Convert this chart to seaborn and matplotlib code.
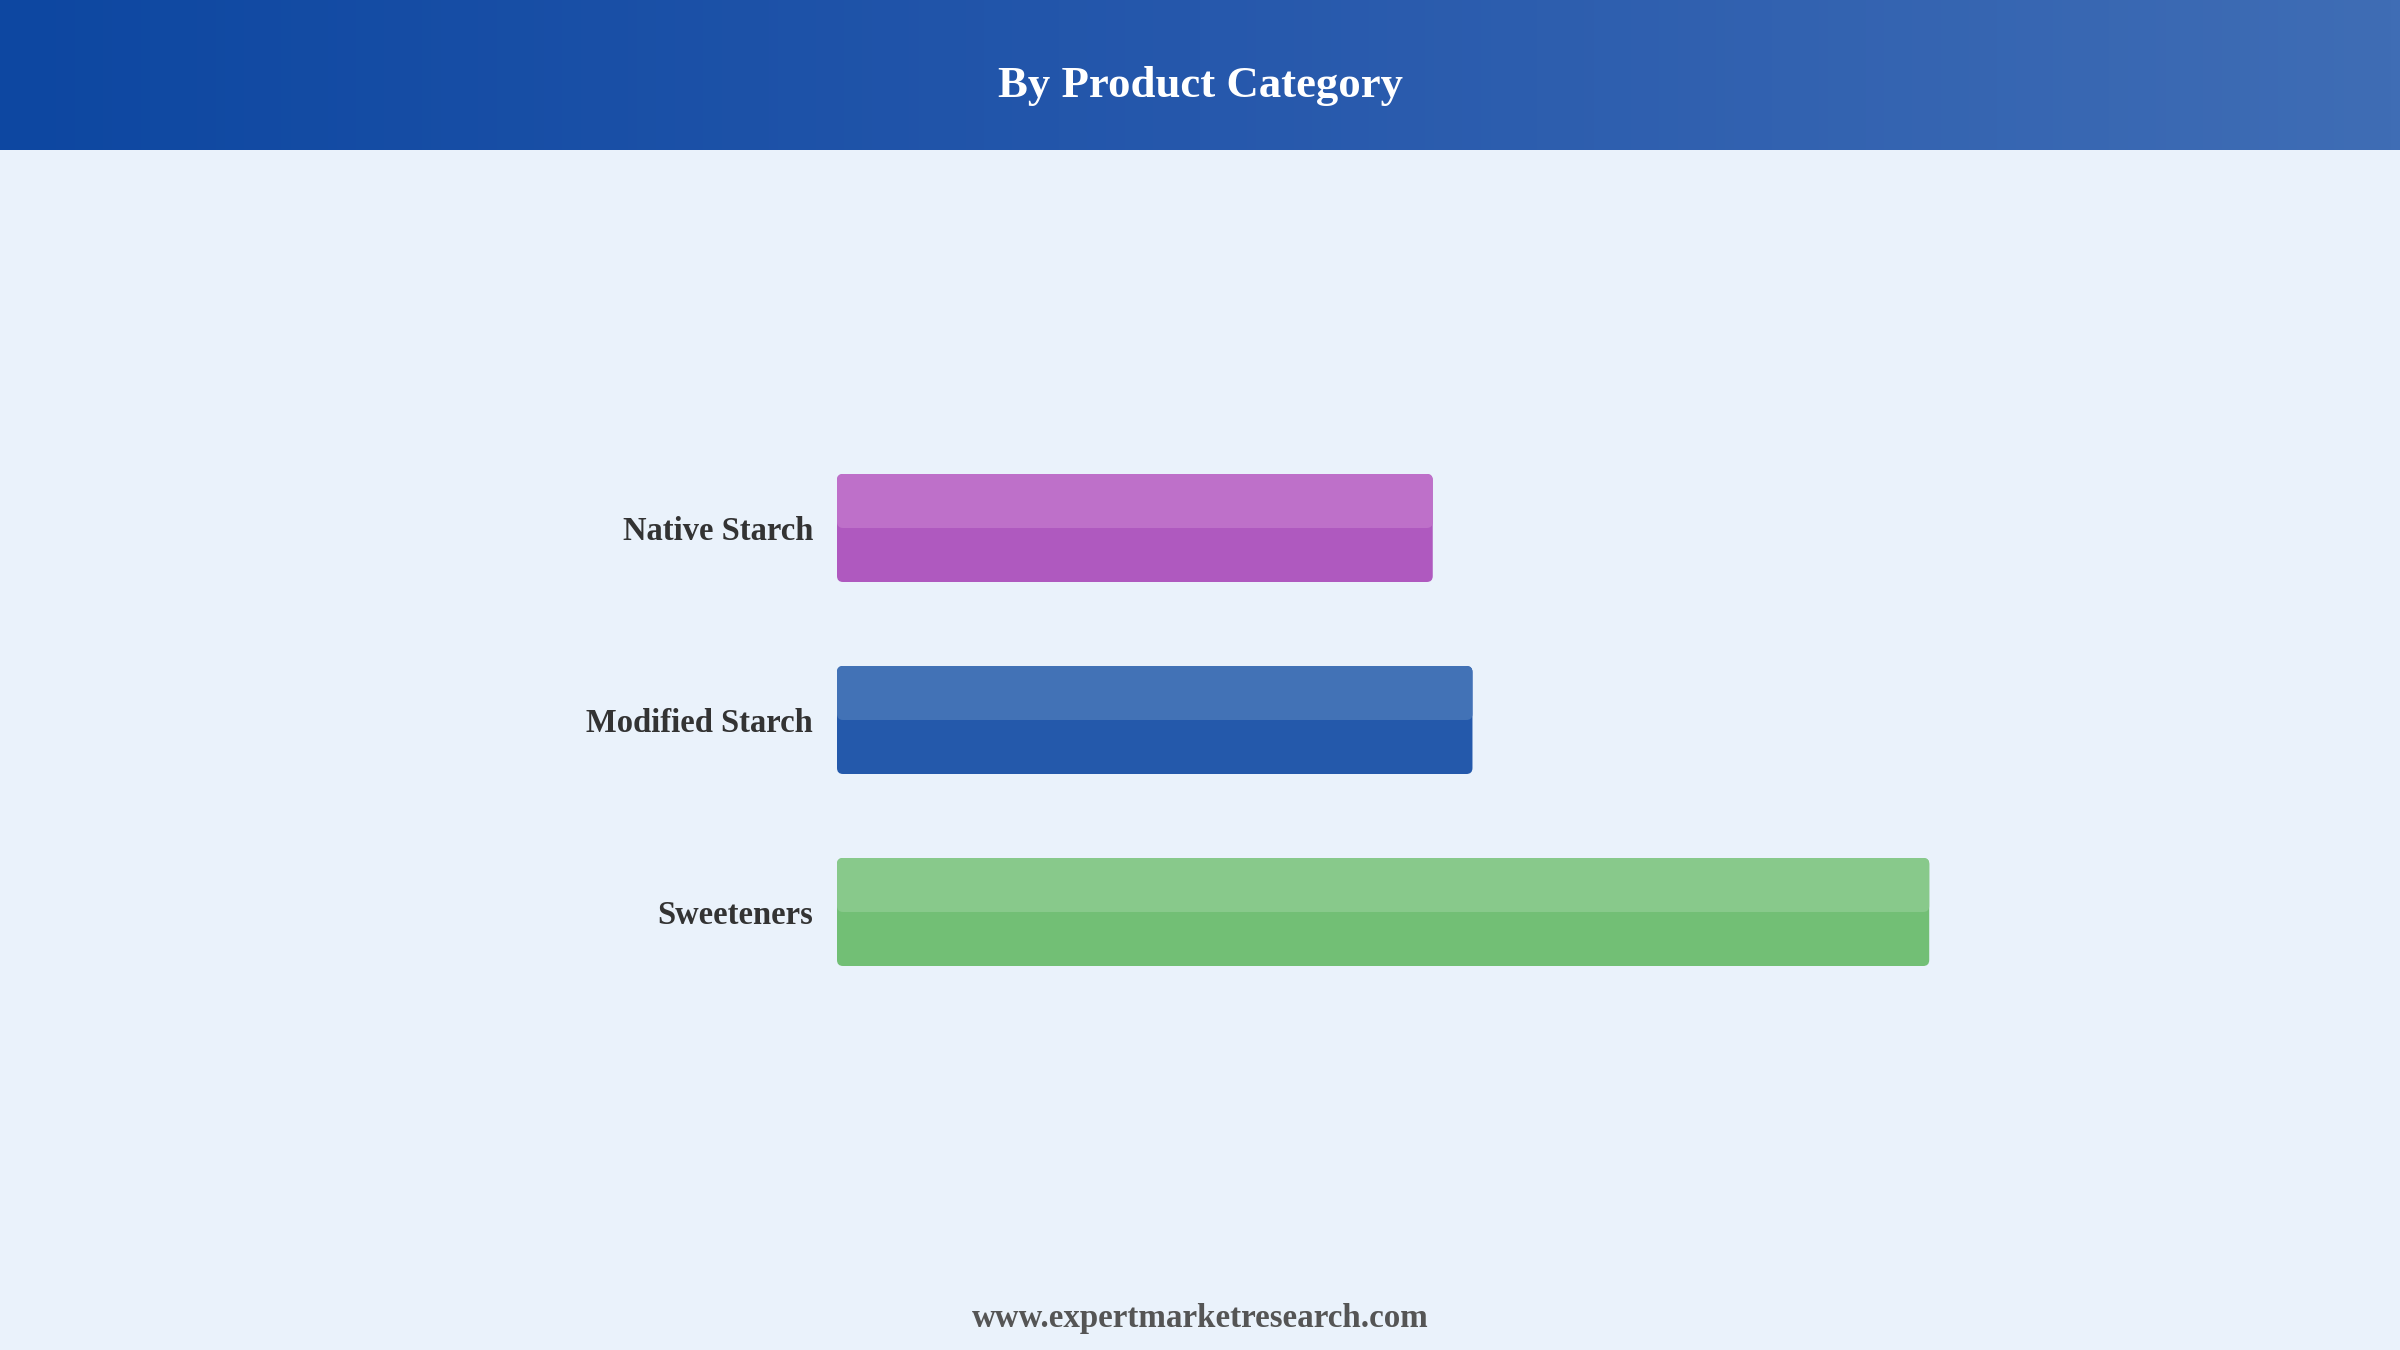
import numpy as np
import pandas as pd
import matplotlib
matplotlib.use("Agg")
import matplotlib.pyplot as plt
from matplotlib.patches import FancyBboxPatch
from matplotlib.colors import LinearSegmentedColormap
import seaborn as sns

categories = ["Native Starch", "Modified Starch", "Sweeteners"]
values = [30, 32, 55]
bar_colors = ["#AF59BF", "#2459AB", "#72BF75"]
top_colors = ["#BE70C9", "#4272B6", "#88C98B"]

title = "By Product Category"
footer = "www.expertmarketresearch.com"

sns.set_theme(style="white")
plt.rcParams["font.family"] = ["Liberation Serif", "DejaVu Serif"]

W, H, DPI = 2400, 1350, 200
fig = plt.figure(figsize=(W / DPI, H / DPI), dpi=DPI, facecolor="#EAF2FB")

# header band with gradient
hh = 150
hax = fig.add_axes([0, 1 - hh / H, 1, hh / H])
cmap = LinearSegmentedColormap.from_list("hdr", ["#0D47A1", "#2658AC", "#3F6DB5"])
hax.imshow(np.linspace(0, 1, 512)[None, :], aspect="auto", cmap=cmap,
           extent=[0, 1, 0, 1])
hax.set_axis_off()
hax.text(0.5, 0.43, title, ha="center", va="center", color="white",
         fontsize=16.1, fontweight="bold", transform=hax.transAxes)

# main bar axes
left_px, right_px = 837, 2100
top_px, bot_px = 336, 1104
ax = fig.add_axes([left_px / W, 1 - bot_px / H, (right_px - left_px) / W,
                   (bot_px - top_px) / H])
ax.set_facecolor("none")
df = pd.DataFrame({"category": categories, "value": values})
sns.barplot(data=df, x="value", y="category", hue="category",
            palette=bar_colors, orient="h", width=0.5625, legend=False, ax=ax)
ax.set_xlim(0, 63.6)
ax.set_ylim(3, -1)
for s in ax.spines.values():
    s.set_visible(False)
ax.set_xticks([])
ax.set_xlabel("")
ax.set_ylabel("")
ax.tick_params(axis="y", length=0, pad=8.6)
for lab in ax.get_yticklabels():
    lab.set_fontweight("bold")
    lab.set_fontsize(11.75)
    lab.set_color("#333333")

# rounded bars with lighter top half
fig.canvas.draw()
inv = ax.transData
x_per_px = (inv.inverted().transform((1, 0))[0] - inv.inverted().transform((0, 0))[0])
y_per_px = abs(inv.inverted().transform((0, 1))[1] - inv.inverted().transform((0, 0))[1])
radius_px = 6
aspect = y_per_px / x_per_px
rs = radius_px * x_per_px

patches = list(ax.patches)
for i, p in enumerate(patches):
    x, y = p.get_x(), p.get_y()
    w, h = p.get_width(), p.get_height()
    p.remove()
    full = FancyBboxPatch((x, y), w, h,
                          boxstyle=f"round,pad=0,rounding_size={rs}",
                          mutation_aspect=aspect, facecolor=bar_colors[i],
                          edgecolor="none", zorder=2)
    ax.add_patch(full)
    top = FancyBboxPatch((x, y), w, h / 2,
                         boxstyle=f"round,pad=0,rounding_size={rs}",
                         mutation_aspect=aspect, facecolor=top_colors[i],
                         edgecolor="none", zorder=3)
    ax.add_patch(top)

fig.text(0.5, 1 - 1318 / H, footer, ha="center", va="center",
         fontsize=11.9, fontweight="bold", color="#555555")

fig.savefig("out.png", dpi=DPI, facecolor=fig.get_facecolor())
